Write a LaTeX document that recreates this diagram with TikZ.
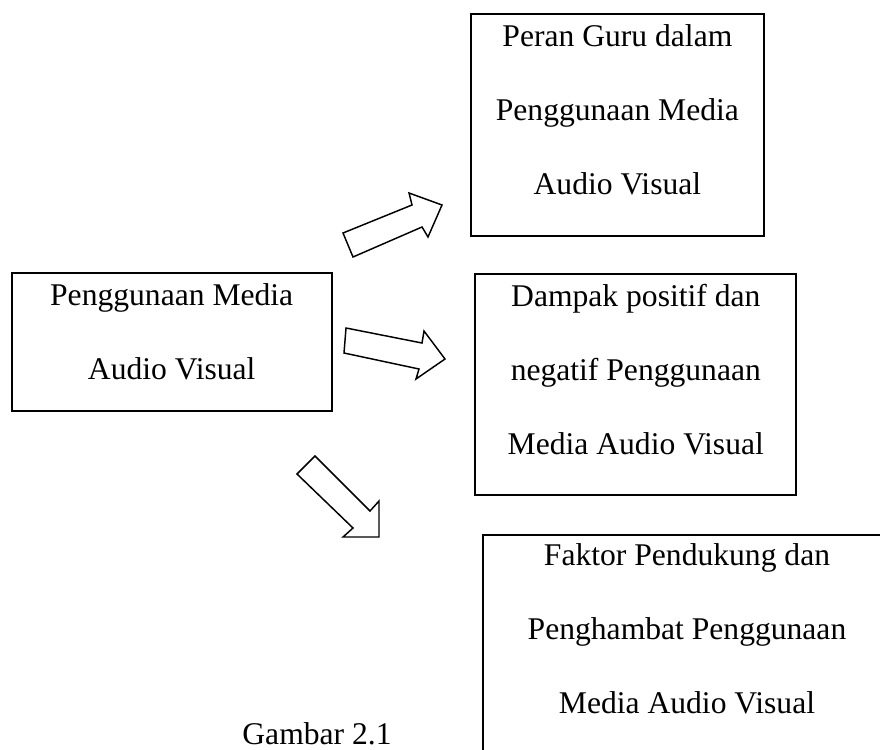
\documentclass[tikz,border=0pt]{standalone}
\usepackage{fontspec}
\setmainfont{Liberation Serif}
\usetikzlibrary{calc}

\tikzset{
  box/.style={draw=black, line width=1.5pt, rectangle, inner sep=0pt, fill=none},
  line/.style={font=\fontsize{23.7pt}{28pt}\selectfont, anchor=base, inner sep=0pt},
  blockarrow/.style={draw=black, line width=1.1pt, line join=miter, fill=white},
}

\begin{document}
\begin{tikzpicture}[x=0.75pt, y=-0.75pt]
  \useasboundingbox (0,0) rectangle (880,749);
  \clip (0,0) rectangle (880,749);

  % source box
  \node[box, minimum width=240pt, minimum height=103pt] (src) at (171.7,342) {};
  \node[line] (src1) at (171.7,305) {Penggunaan Media};
  \node[line] (src2) at (171.7,379) {Audio Visual};

  % target: role of the teacher
  \node[box, minimum width=220pt, minimum height=166.3pt] (guru) at (617.4,124.9) {};
  \node[line] (guru1) at (617.4,46) {Peran Guru dalam};
  \node[line] (guru2) at (617.4,120) {Penggunaan Media};
  \node[line] (guru3) at (617.4,194) {Audio Visual};

  % target: positive and negative impact
  \node[box, minimum width=240.75pt, minimum height=165.5pt] (dampak) at (635.5,384.7) {};
  \node[line] (dampak1) at (635.8,306.5) {Dampak positif dan};
  \node[line] (dampak2) at (635.8,380.5) {negatif Penggunaan};
  \node[line] (dampak3) at (635.8,454.5) {Media Audio Visual};

  % target: supporting and inhibiting factors (runs past the page edge)
  \node[box, minimum width=307.5pt, minimum height=200pt, anchor=north west] (faktor) at (482,534) {};
  \node[line] (faktor1) at (687,565) {Faktor Pendukung dan};
  \node[line] (faktor2) at (687,639) {Penghambat Penggunaan};
  \node[line] (faktor3) at (687,713) {Media Audio Visual};

  % block arrows
  \draw[blockarrow] (343,233) -- (412,205) -- (409,193) -- (442,205)
        -- (428,237) -- (422,227) -- (353,257) -- cycle;
  \draw[blockarrow] (346,328) -- (422,343) -- (424,331) -- (445,359)
        -- (416,379) -- (419,369) -- (344,353) -- cycle;
  \draw[blockarrow] (315,456) -- (370,511) -- (379,501) -- (379,537)
        -- (343,537) -- (353,528) -- (297,474) -- cycle;

  % caption
  \node[line] (caption) at (317,744) {Gambar 2.1};
\end{tikzpicture}
\end{document}
